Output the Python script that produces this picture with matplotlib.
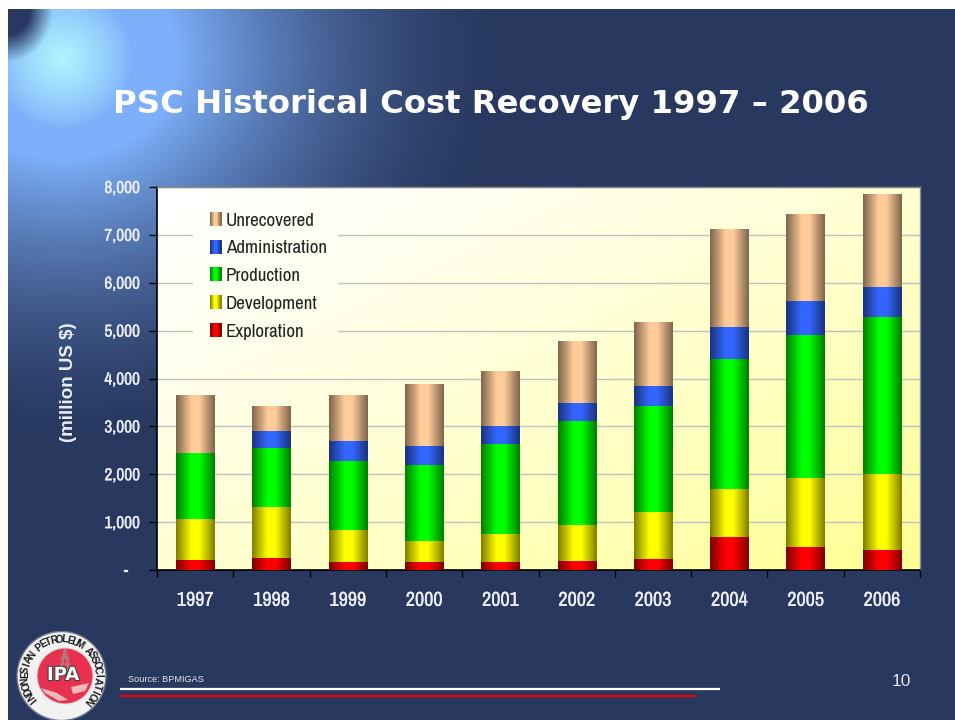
import numpy as np
import matplotlib
matplotlib.use('Agg')
import matplotlib.pyplot as plt
import matplotlib.patheffects as pe
from matplotlib.patches import Rectangle, Circle, Polygon
from matplotlib.legend_handler import HandlerBase
from matplotlib import font_manager

years = ['1997', '1998', '1999', '2000', '2001', '2002', '2003', '2004', '2005', '2006']
exploration = [200, 250, 170, 160, 165, 180, 220, 680, 480, 410]
development = [865, 1060, 670, 440, 585, 760, 990, 1010, 1440, 1600]
production = [1375, 1240, 1430, 1590, 1890, 2170, 2220, 2710, 2980, 3270]
administration = [10, 350, 420, 400, 360, 370, 420, 670, 710, 630]
unrecovered = [1200, 520, 960, 1290, 1130, 1280, 1330, 2030, 1810, 1930]

series_names = ['Exploration', 'Development', 'Production', 'Administration', 'Unrecovered']
series_values = [exploration, development, production, administration, unrecovered]
series_colors = ['#ff0000', '#ffff00', '#00ff00', '#3366ff', '#ffcc99']

W, H = 955, 720
names = {f.name for f in font_manager.fontManager.ttflist}
narrow = 'Liberation Sans'
for cand in ['Liberation Sans Narrow', 'Arimo Narrow', 'Archivo Narrow', 'PT Sans Narrow', 'Roboto Condensed',
             'Sofia Sans Semi Condensed', 'Barlow Semi Condensed']:
    if cand in names:
        narrow = cand
        break


def shade(color):
    # dark edges, bright middle, like the cylinder look of the bars
    rgb = np.array(matplotlib.colors.to_rgb(color))
    x = np.linspace(-1, 1, 64)
    k = 0.5 + 0.5 * np.clip((1 - np.abs(x)) / 0.8, 0, 1)
    return (rgb[None, :] * k[:, None])[None, :, :]


fig = plt.figure(figsize=(W / 100, H / 100), dpi=100, facecolor='white')

# slide background
bg = fig.add_axes([8 / W, 0, 1 - 8 / W, 1 - 9 / H])
bg.set_xlim(8, W)
bg.set_ylim(H, 9)
bg.axis('off')
yy, xx = np.mgrid[9:H, 8:W]
r = np.hypot((xx - 62) / 1.15, yy - 58)
navy = np.array([40, 56, 95]) / 255
mid = np.array([125, 175, 250]) / 255
light = np.array([178, 245, 255]) / 255
t1 = np.clip(1 - (r - 100) / 300, 0, 1) ** 1.8
t2 = np.clip(1 - np.hypot(xx - 62, yy - 58) / 70, 0, 1) ** 0.8
img = navy + (mid - navy) * t1[..., None]
img = img + (light - img) * t2[..., None]
# dark corner in the top left
d = np.hypot((xx - 8) / 42, (yy - 9) / 50)
corner = np.clip((1.05 - d) / 0.55, 0, 1)[..., None]
img = img + (navy - img) * corner
bg.imshow(np.clip(img, 0, 1), extent=[8, W, H, 9], aspect='auto', zorder=0)

fig.text(491 / W, 1 - 105 / H, 'PSC Historical Cost Recovery 1997 \u2013 2006', color='white',
         fontsize=23.2, fontweight='bold', family='DejaVu Sans', ha='center', va='center')
fig.text(128 / W, 1 - 679 / H, 'Source: BPMIGAS', color='#e6e6e6', fontsize=6.6,
         family='Liberation Sans', ha='left', va='center')
fig.text(901 / W, 1 - 681 / H, '10', color='#e6e6e6', fontsize=12.5,
         family='Liberation Sans', ha='center', va='center')
bg.plot([120, 720], [688.5, 688.5], color='white', lw=1.6, solid_capstyle='butt', zorder=2)
bg.plot([120, 696], [696, 696], color='#ee0000', lw=1.6, solid_capstyle='butt', zorder=2)

# IPA logo
cx, cy = 61.5, 676
rx = 65
bg.add_patch(Circle((cx, cy), 44.5, fc='#f2f2f2', ec='#6f7890', lw=1, zorder=3))
bg.add_patch(Circle((rx, cy), 28, fc='#e8304f', ec='#d8d8d8', lw=0.8, zorder=4))
bg.plot([rx - 5, rx, rx + 5], [cy - 2, cy - 26, cy - 2], color='#b9757c', lw=2, zorder=5)
for dy in (-18, -12, -6):
    bg.plot([rx - 4, rx + 4], [cy + dy, cy + dy], color='#b9757c', lw=1.2, zorder=5)
bg.add_patch(Polygon([(rx - 24, cy + 12), (rx - 8, cy + 17), (rx + 3, cy + 24), (rx - 6, cy + 25), (rx - 20, cy + 17)],
                     fc='#f0b8b8', ec='none', zorder=5))
bg.add_patch(Polygon([(rx + 6, cy + 11), (rx + 24, cy + 7), (rx + 20, cy + 15), (rx + 8, cy + 18)],
                     fc='#f0b8b8', ec='none', zorder=5))
bg.text(rx - 2, cy - 1, 'IPA', color='white', fontsize=13, fontweight='bold', family='DejaVu Sans',
        ha='center', va='center', zorder=6, path_effects=[pe.withStroke(linewidth=1.6, foreground='#444444')])
ring = 'INDONESIAN PETROLEUM ASSOCIATION'
angles = np.linspace(221, -42, len(ring))
for ch, a in zip(ring, angles):
    px = cx + 36.5 * np.cos(np.radians(a))
    py = cy - 36.5 * np.sin(np.radians(a))
    bg.text(px, py, ch, color='#1c1c1c', fontsize=7.2, fontweight='bold', family='Liberation Sans',
            rotation=a - 90, ha='center', va='center', rotation_mode='anchor', zorder=6)

# chart
ax = fig.add_axes([157 / W, 1 - 570 / H, (920 - 157) / W, (570 - 187) / H])
ax.set_zorder(2)
n = 200
v, u = np.mgrid[0:1:n * 1j, 0:1:n * 1j]
g = (u + v) / 2
plot_bg = np.ones((n, n, 3))
plot_bg[..., 2] = 1 - 0.42 * g ** 1.3
ax.imshow(plot_bg, extent=[-0.5, 9.5, 0, 8000], origin='upper', aspect='auto', zorder=0)

ax.yaxis.grid(True, color='#c0c0c0', lw=1, zorder=1)
ax.set_axisbelow(True)

# same gradient over the grid lines behind the legend, so they look cut
gap = ax.imshow(plot_bg, extent=[-0.5, 9.5, 0, 8000], origin='upper', aspect='auto', zorder=1)
gap.set_clip_path(Rectangle((-0.5 + (193 - 157) / 76.3, (570 - 345) / 383 * 8000), 145 / 76.3, 150 / 383 * 8000,
                            transform=ax.transData))

x = np.arange(len(years))
bottom = np.zeros(len(years))
for name, vals, col in zip(series_names, series_values, series_colors):
    bars = ax.bar(x, vals, 0.5, bottom=bottom, color=col, label=name, zorder=2)
    for b in bars:
        ax.imshow(shade(col), extent=[b.get_x(), b.get_x() + b.get_width(), b.get_y(), b.get_y() + b.get_height()],
                  aspect='auto', zorder=3)
    bottom += np.array(vals)
ax.set_xlim(-0.5, 9.5)
ax.set_ylim(0, 8000)


class GradHandler(HandlerBase):
    def create_artists(self, legend, orig, xd, yd, width, height, fontsize, trans):
        rgb = shade(orig.get_facecolor())[0]
        out = []
        k = 11
        for i in range(k):
            c = rgb[int((i + 0.5) * rgb.shape[0] / k)]
            out.append(Rectangle((-xd + i * width / k, -yd), width / k + 0.1, height, fc=c, ec='none', transform=trans))
        return out


handles = [ax.containers[i].patches[0] for i in range(5)][::-1]
labels = series_names[::-1]
leg = ax.legend(handles, labels, loc='upper left', bbox_to_anchor=((210 - 157) / 763, 1 - (212 - 187) / 383),
                handler_map={h: GradHandler() for h in handles}, frameon=False,
                prop={'family': narrow, 'size': 13.7}, handlelength=0.6, handleheight=0.75,
                handletextpad=0.24, labelspacing=0.585, borderaxespad=0, borderpad=0)
leg.set_zorder(5)
for t in leg.get_texts():
    t.set_color('#222222')

ax.set_yticks(np.arange(0, 8001, 1000))
ax.set_yticklabels(['-   '] + [f'{i:,}' for i in range(1000, 8001, 1000)], color='#eceef5',
                   family=narrow, fontsize=12.5, fontweight='bold')
ax.set_xticks(np.arange(-0.5, 10, 1), minor=False)
ax.set_xticklabels([''] * 11)
ax.set_xticks(x, minor=True)
ax.set_xticklabels(years, minor=True, color='#eceef5', family=narrow, fontsize=14.5, fontweight='bold')
ax.tick_params(axis='x', which='minor', length=0, pad=15)
ax.tick_params(axis='x', which='major', length=5, width=1, color='black', direction='out')
ax.tick_params(axis='y', length=6, width=1, color='black', direction='out', pad=6)
# the narrow face has no real bold here, thicken it a little
for t in ax.get_yticklabels() + ax.get_xticklabels(minor=True):
    t.set_path_effects([pe.withStroke(linewidth=0.2, foreground='#eceef5')])
for s in ['left', 'bottom']:
    ax.spines[s].set_color('black')
    ax.spines[s].set_linewidth(1.2)
for s in ['top', 'right']:
    ax.spines[s].set_color('#8a8a8a')
    ax.spines[s].set_linewidth(1)
fig.text(68 / W, 1 - 382 / H, '(million US $)', color='#eceef5', rotation=90, family='Liberation Sans',
         fontsize=13.5, fontweight='bold', ha='center', va='center')

fig.savefig('out.png', dpi=100)
